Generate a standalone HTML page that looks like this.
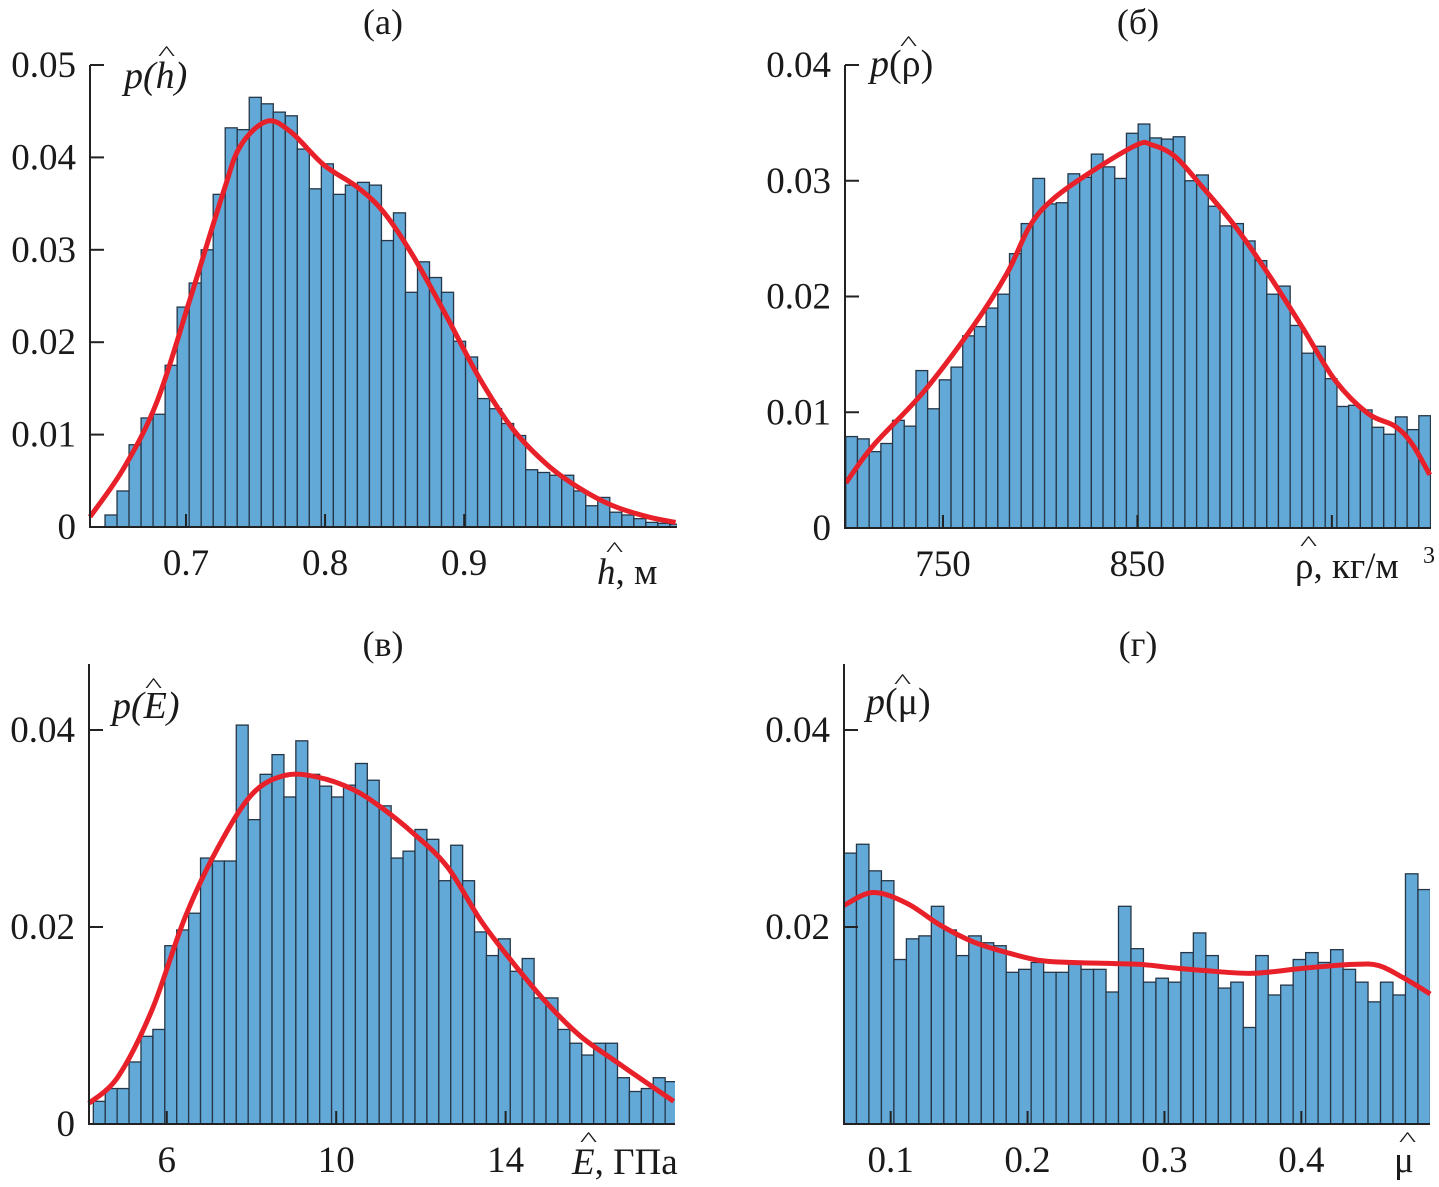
<!DOCTYPE html>
<html><head><meta charset="utf-8"><style>
html,body{margin:0;padding:0;background:#fff}
svg{display:block}
text{font-family:"Liberation Serif","Times New Roman",serif;fill:#1a1a1a}
</style></head><body>
<svg id="fig" width="1439" height="1187" viewBox="0 0 1439 1187" xmlns="http://www.w3.org/2000/svg" font-family="Liberation Serif, serif"></svg>
<script>
// ---------- DATA ----------
const aBinStart = 0.6418, aBinWidth = 0.00864;
const aCounts = [0.0013,0.0039,0.0089,0.0118,0.0122,0.0175,0.0238,0.0264,0.0300,0.0360,0.0432,0.0430,0.0465,0.0458,0.0449,0.0445,0.0409,0.0366,0.0393,0.0360,0.0370,0.0373,0.0370,
 0.0310,0.0340,0.0254,0.0287,0.0270,0.0254,0.0201,0.0184,0.0139,0.0128,0.0112,0.0099,0.0062,0.0059,0.0056,0.0056,0.0039,0.0023,0.0032,0.0016,0.0013,0.0009,0.0005,0.0004,0.0003];
const aKdeX = [0.631,0.655,0.679,0.703,0.727,0.739,0.758,0.775,0.799,0.823,0.842,0.863,0.887,0.911,0.935,0.960,0.983,1.007,1.032,1.052];
const aKdeY = [0.0011,0.0063,0.0135,0.0247,0.0363,0.0412,0.0439,0.0428,0.0392,0.0368,0.0341,0.0294,0.0229,0.0161,0.0106,0.0067,0.0042,0.0023,0.0011,0.0005];
const aXTicks = [0.7,0.8,0.9];
const aXTickLabels = ["0.7","0.8","0.9"];
const aYTicks = [0,0.01,0.02,0.03,0.04,0.05];
const aYTickLabels = ["0","0.01","0.02","0.03","0.04","0.05"];

const bBinStart = 700, bBinWidth = 6.015;
const bCounts = [0.0079,0.0077,0.0066,0.0073,0.0093,0.0088,0.0136,0.0103,0.0128,0.0139,0.0166,0.0174,0.0190,0.0202,0.0237,0.0263,0.0302,0.0280,0.0281,0.0306,0.0303,0.0323,0.0312,0.0302,0.0341,0.0349,
 0.0337,0.0336,0.0338,0.0300,0.0305,0.0278,0.0261,0.0263,0.0248,0.0231,0.0202,0.0209,0.0175,0.0151,0.0157,0.0129,0.0105,0.0106,0.0102,0.0087,0.0081,0.0096,0.0085,0.0097];
const bKdeX = [700.1,714,739.7,765.4,782.9,794.7,806.5,825.6,849.7,857.4,869.3,883.2,900.1,917.1,934.6,951.5,968.5,982.4,991.1,1000.4];
const bKdeY = [0.0039,0.0071,0.0117,0.0174,0.0220,0.0261,0.0284,0.0307,0.0331,0.0331,0.0321,0.0295,0.0261,0.0220,0.0174,0.0128,0.0099,0.0088,0.0073,0.0046];
const bXTicks = [750,850,950];
const bXTickLabels = ["750","850",""];
const bYTicks = [0,0.01,0.02,0.03,0.04];
const bYTickLabels = ["0","0.01","0.02","0.03","0.04"];

const cBinStart = 4.265, cBinWidth = 0.2813;
const cCounts = [0.0023,0.0036,0.0036,0.0063,0.0089,0.0096,0.0181,0.0197,0.0214,0.0270,0.0267,0.0267,0.0405,0.0309,0.0355,0.0375,0.0332,0.0389,0.0355,0.0343,0.0332,0.0344,0.0366,0.0349,0.0323,
 0.0270,0.0277,0.0299,0.0289,0.0247,0.0283,0.0247,0.0195,0.0171,0.0188,0.0155,0.0168,0.0128,0.0128,0.0096,0.0082,0.0070,0.0082,0.0082,0.0047,0.0033,0.0036,0.0047,0.0043];
const cKdeX = [4.163,4.849,5.652,6.433,7.213,8.017,8.797,9.577,10.381,11.043,11.823,12.627,13.407,14.187,14.991,15.771,16.551,17.355,17.969];
const cKdeY = [0.0021,0.0048,0.0116,0.0210,0.0281,0.0335,0.0354,0.0352,0.0340,0.0322,0.0295,0.0261,0.0207,0.0163,0.0122,0.0089,0.0065,0.0041,0.0023];
const cXTicks = [6,10,14];
const cXTickLabels = ["6","10","14"];
const cYTicks = [0,0.02,0.04];
const cYTickLabels = ["0","0.02","0.04"];

const dBinStart = 0.0659, dBinWidth = 0.009115;
const dCounts = [0.0275,0.0284,0.0257,0.0247,0.0167,0.0188,0.0191,0.0221,0.0197,0.0171,0.0191,0.0184,0.0181,0.0154,0.0157,0.0164,0.0154,0.0154,0.0164,0.0157,0.0157,0.0134,0.0221,0.0178,
 0.0144,0.0148,0.0144,0.0174,0.0194,0.0171,0.0138,0.0144,0.0098,0.0171,0.0131,0.0141,0.0167,0.0174,0.0164,0.0177,0.0157,0.0144,0.0124,0.0144,0.0131,0.0254,0.0238];
const dKdeX = [0.0659,0.0871,0.1119,0.1361,0.1602,0.1851,0.2092,0.2333,0.2823,0.3027,0.3276,0.3641,0.4007,0.4372,0.4562,0.4738,0.4942];
const dKdeY = [0.0222,0.0235,0.0224,0.0202,0.0185,0.0174,0.0166,0.0164,0.0162,0.0159,0.0156,0.0153,0.0158,0.0162,0.0161,0.0149,0.0132];
const dXTicks = [0.1,0.2,0.3,0.4];
const dXTickLabels = ["0.1","0.2","0.3","0.4"];
const dYTicks = [0.02,0.04];
const dYTickLabels = ["0.02","0.04"];

// ---------- DRAWING ----------
const NS = "http://www.w3.org/2000/svg";
const svg = document.getElementById('fig');
const FONT = "Liberation Serif, Times New Roman, serif";
function mk(tag, parent){ const e=document.createElementNS(NS,tag); parent.appendChild(e); return e; }

function panel(id, box, xDom, yDom, binStart, binWidth, counts, kx, ky, xt, xtl, yt, ytl){
  const g = mk('g', svg);
  
  
  const sx = v => box.x0 + (v - xDom[0])/(xDom[1]-xDom[0])*(box.x1-box.x0);
  const sy = v => box.y0 - (v - yDom[0])/(yDom[1]-yDom[0])*(box.y0-box.y1);
  const clip = mk('clipPath', g); clip.setAttribute('id', 'clip-'+id);
  const cr = mk('rect', clip);
  cr.setAttribute('x', box.x0); cr.setAttribute('y', box.y1-20);
  cr.setAttribute('width', box.x1-box.x0); cr.setAttribute('height', box.y0-box.y1+20);
  const bars = mk('g', g); bars.setAttribute('clip-path', 'url(#clip-'+id+')');
  
  
  counts.forEach((c,i)=>{
    const xa = sx(binStart + i*binWidth), xb = sx(binStart + (i+1)*binWidth);
    const r = mk('rect', bars);
    
    
    r.setAttribute('x', xa); r.setAttribute('width', xb-xa);
    r.setAttribute('y', sy(c)); r.setAttribute('height', sy(0)-sy(c));
    r.setAttribute('fill', '#62a9d8'); r.setAttribute('stroke', '#263646'); r.setAttribute('stroke-width', '1.3');
  });
  const pts = kx.map((v,i)=>[sx(v), sy(ky[i])]);
  let d = 'M' + pts[0][0] + ',' + pts[0][1];
  for (let i=0;i<pts.length-1;i++){
    const p0=pts[Math.max(0,i-1)], p1=pts[i], p2=pts[i+1], p3=pts[Math.min(pts.length-1,i+2)];
    const c1=[p1[0]+(p2[0]-p0[0])/6, p1[1]+(p2[1]-p0[1])/6];
    const c2=[p2[0]-(p3[0]-p1[0])/6, p2[1]-(p3[1]-p1[1])/6];
    d += ' C'+c1[0]+','+c1[1]+' '+c2[0]+','+c2[1]+' '+p2[0]+','+p2[1];
  }
  const path = mk('path', g);
  
  
  path.setAttribute('d', d); path.setAttribute('fill','none');
  path.setAttribute('stroke','#e8202a'); path.setAttribute('stroke-width','5'); path.setAttribute('stroke-linejoin','round');
  const ax = mk('path', g);
  
  
  ax.setAttribute('d', 'M'+box.x0+','+box.yt+' V'+box.y0+' H'+box.x1);
  ax.setAttribute('fill','none'); ax.setAttribute('stroke','#222'); ax.setAttribute('stroke-width','2');
  xt.forEach((v,i)=>{
    const t = mk('line', g);
    
    
    t.setAttribute('x1', sx(v)); t.setAttribute('x2', sx(v)); t.setAttribute('y1', box.y0); t.setAttribute('y2', box.y0-13);
    t.setAttribute('stroke','#222'); t.setAttribute('stroke-width','2');
    if (xtl[i]) {
      const l = mk('text', g);
      
      
      l.setAttribute('font-family', FONT);
      l.setAttribute('x', sx(v)); l.setAttribute('y', box.y0+48); l.setAttribute('text-anchor','middle'); l.setAttribute('font-size','37');
      l.textContent = xtl[i];
    }
  });
  yt.forEach((v,i)=>{
    const t = mk('line', g);
    
    
    t.setAttribute('x1', box.x0); t.setAttribute('x2', box.x0+14); t.setAttribute('y1', sy(v)); t.setAttribute('y2', sy(v));
    t.setAttribute('stroke','#222'); t.setAttribute('stroke-width','2');
    const l = mk('text', g);
    
    
    l.setAttribute('font-family', FONT);
    l.setAttribute('x', box.x0-14); l.setAttribute('y', sy(v)+12); l.setAttribute('text-anchor','end'); l.setAttribute('font-size','37');
    l.textContent = ytl[i];
  });
}

panel('a', {x0:90,x1:677,y0:527,y1:65,yt:65}, [0.631,1.053], [0,0.05], aBinStart, aBinWidth, aCounts, aKdeX, aKdeY, aXTicks, aXTickLabels, aYTicks, aYTickLabels);
panel('b', {x0:845,x1:1431,y0:528,y1:65,yt:65}, [699.6,1001], [0,0.04], bBinStart, bBinWidth, bCounts, bKdeX, bKdeY, bXTicks, bXTickLabels, bYTicks, bYTickLabels);
panel('c', {x0:89,x1:675,y0:1124,y1:730,yt:664}, [4.163,18.0], [0,0.04], cBinStart, cBinWidth, cCounts, cKdeX, cKdeY, cXTicks, cXTickLabels, cYTicks, cYTickLabels);
panel('d', {x0:844,x1:1430,y0:1124,y1:730,yt:664}, [0.0659,0.494], [0,0.04], dBinStart, dBinWidth, dCounts, dKdeX, dKdeY, dXTicks, dXTickLabels, dYTicks, dYTickLabels);
</script>
<script>
(function(){
  const NS="http://www.w3.org/2000/svg", svg=document.getElementById('fig');
  const FONT = "Liberation Serif, Times New Roman, serif";
  // [name, x, y, text, anchor, italicPart, size]
  const labels = [
    ['panel-a-title', 383, 34, '(а)', 'middle', '', 36],
    ['panel-b-title', 1138, 34, '(б)', 'middle', '', 36],
    ['panel-c-title', 383, 656, '(в)', 'middle', '', 36],
    ['panel-d-title', 1138, 656, '(г)', 'middle', '', 36],
    ['a-y-axis-title', 124, 88, 'p(h)', 'start', 'all', 38],
    ['b-y-axis-title', 870, 76, 'p(ρ)', 'start', 'p', 38],
    ['c-y-axis-title', 112, 718, 'p(E)', 'start', 'all', 38],
    ['d-y-axis-title', 866, 714, 'p(μ)', 'start', 'p', 38],
    ['a-x-axis-title', 597, 584, 'h, м', 'start', 'first', 37],
    ['b-x-axis-title', 1295, 578, 'ρ, кг/м', 'start', '', 37],
    ['c-x-axis-title', 572, 1174, 'E, ГПа', 'start', 'first', 37],
    ['d-x-axis-title', 1394, 1172, 'μ', 'start', '', 37],
    ['b-x-axis-superscript', 1423, 563, '3', 'start', '', 24],
  ];
  labels.forEach(l=>{
    const t=document.createElementNS(NS,'text'); svg.appendChild(t);
    
    
    t.setAttribute('font-family', FONT);
    t.setAttribute('x', l[1]); t.setAttribute('y', l[2]); t.setAttribute('text-anchor', l[4]);
    t.setAttribute('font-size', l[6]);
    const s = l[3];
    if (l[5]==='all') { t.setAttribute('font-style','italic'); t.textContent = s; }
    else if (l[5]==='p') {
      const ts=document.createElementNS(NS,'tspan'); ts.setAttribute('font-style','italic'); ts.textContent='p'; t.appendChild(ts);
      t.appendChild(document.createTextNode(s.slice(1)));
    } else if (l[5]==='first') {
      const idx=s.indexOf(',');
      const ts=document.createElementNS(NS,'tspan'); ts.setAttribute('font-style','italic'); ts.textContent=s.slice(0,idx); t.appendChild(ts);
      t.appendChild(document.createTextNode(s.slice(idx)));
    } else t.textContent = s;
  });
  const hats = [['a',158,60],['b',900,50],['c',145,692],['d',894,688],['a-x',606,556],['b-x',1300,550],['c-x',580,1146],['d-x',1399,1146]];
  hats.forEach(h=>{
    const t=document.createElementNS(NS,'text'); svg.appendChild(t);
    
    
    t.setAttribute('font-family', FONT);
    t.setAttribute('x', h[1]); t.setAttribute('y', h[2]); t.setAttribute('font-size','26');
    t.setAttribute('transform', 'translate('+h[1]+','+h[2]+') scale(1.4,0.8) translate('+(-h[1])+','+(-h[2])+')');
    t.textContent='^';
  });
})();
</script>
</body></html>
